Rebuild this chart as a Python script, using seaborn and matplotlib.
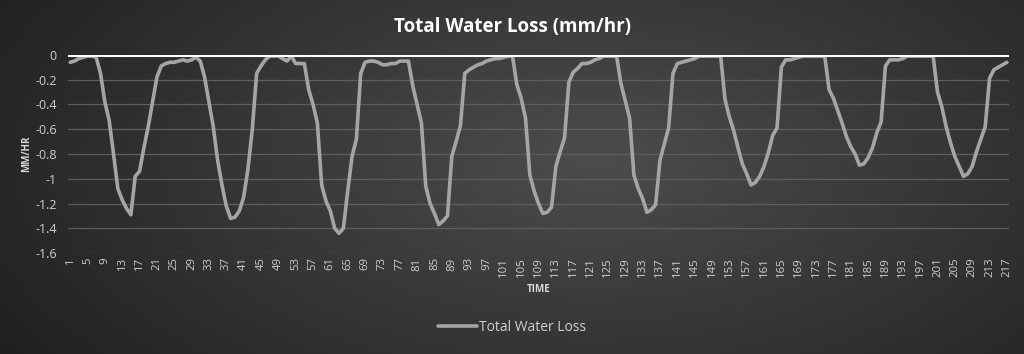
import numpy as np
import pandas as pd
import matplotlib
matplotlib.use('Agg')
import matplotlib.pyplot as plt
import seaborn as sns

# Series values, one per time step (1..217)
water_loss = [
    -0.06, -0.05, -0.03, -0.02, -0.01, -0.01, -0.02, -0.15, -0.38, -0.53,
    -0.80, -1.08, -1.17, -1.24, -1.29, -0.98, -0.94, -0.75, -0.58, -0.38,
    -0.18, -0.09, -0.07, -0.06, -0.06, -0.05, -0.04, -0.05, -0.04, -0.02,
    -0.05, -0.18, -0.38, -0.58, -0.85, -1.05, -1.22, -1.32, -1.31, -1.26,
    -1.15, -0.92, -0.60, -0.15, -0.09, -0.04, -0.01, -0.01, -0.01, -0.03,
    -0.05, -0.01, -0.07, -0.07, -0.07, -0.28, -0.40, -0.55, -1.05, -1.18,
    -1.26, -1.40, -1.44, -1.40, -1.10, -0.82, -0.68, -0.15, -0.06, -0.05,
    -0.05, -0.06, -0.08, -0.08, -0.07, -0.07, -0.05, -0.05, -0.05, -0.25,
    -0.40, -0.55, -1.06, -1.20, -1.28, -1.37, -1.34, -1.30, -0.82, -0.70,
    -0.57, -0.15, -0.12, -0.10, -0.08, -0.07, -0.05, -0.04, -0.03, -0.03,
    -0.02, -0.01, -0.01, -0.24, -0.35, -0.51, -0.97, -1.10, -1.20, -1.28,
    -1.27, -1.23, -0.90, -0.78, -0.67, -0.22, -0.14, -0.11, -0.07, -0.07,
    -0.06, -0.04, -0.03, -0.01, -0.01, -0.01, -0.01, -0.23, -0.37, -0.51,
    -0.97, -1.08, -1.16, -1.27, -1.25, -1.21, -0.85, -0.72, -0.59, -0.15,
    -0.07, -0.06, -0.05, -0.04, -0.03, -0.01, -0.01, -0.01, -0.01, -0.01,
    -0.01, -0.36, -0.50, -0.61, -0.75, -0.88, -0.96, -1.05, -1.03, -0.98,
    -0.90, -0.79, -0.65, -0.59, -0.10, -0.04, -0.04, -0.03, -0.02, -0.01,
    -0.01, -0.01, -0.01, -0.01, -0.01, -0.28, -0.35, -0.45, -0.55, -0.66,
    -0.74, -0.80, -0.89, -0.88, -0.83, -0.75, -0.63, -0.54, -0.09, -0.04,
    -0.04, -0.04, -0.03, -0.01, -0.01, -0.01, -0.01, -0.01, -0.01, -0.01,
    -0.30, -0.42, -0.58, -0.71, -0.82, -0.90, -0.98, -0.96, -0.90, -0.78,
    -0.68, -0.58, -0.19, -0.12, -0.10, -0.08, -0.06,
]
time_steps = list(range(1, len(water_loss) + 1))
x_tick_values = list(range(1, 218, 4))
y_tick_values = [0, -0.2, -0.4, -0.6, -0.8, -1, -1.2, -1.4, -1.6]
y_tick_labels = ['0', '-0.2', '-0.4', '-0.6', '-0.8', '-1', '-1.2', '-1.4', '-1.6']

df = pd.DataFrame({'Time': time_steps, 'Total Water Loss': water_loss})

sns.set_style("dark")
plt.rcParams['font.family'] = ['Open Sans', 'DejaVu Sans']

fig = plt.figure(figsize=(10.24, 3.54), dpi=100)

# radial grey background gradient
bg = fig.add_axes([0, 0, 1, 1], zorder=0)
gx, gy = np.meshgrid(np.linspace(0, 1, 400), np.linspace(0, 1, 150))
r = np.sqrt(((gx - 0.58) / 0.75) ** 2 + ((gy - 0.55) / 1.1) ** 2)
shade = np.clip(0.30 - 0.19 * r, 0.11, 0.30)
bg.imshow(np.dstack([shade] * 3), extent=[0, 1, 0, 1], aspect='auto', origin='lower')
bg.axis('off')

ax = fig.add_axes([0.0664, 0.285, 0.919, 0.56], zorder=1)
ax.patch.set_alpha(0)

ax.set_yticks(y_tick_values)
ax.yaxis.grid(True, color='#5e5e5e', linewidth=0.9)
ax.xaxis.grid(False)
sns.lineplot(data=df, x='Time', y='Total Water Loss', color='#a5a5a5', linewidth=2.6,
             ax=ax, label='Total Water Loss', zorder=3)
ax.axhline(0, color='white', linewidth=2.2, zorder=4)

ax.set_xlim(0.5, len(water_loss) + 0.5)
ax.set_ylim(-1.6, 0)
ax.set_xticks(x_tick_values)
ax.set_xticklabels([str(v) for v in x_tick_values], rotation=90, fontsize=8.2, color='#cfcfcf')
ax.set_yticklabels(y_tick_labels, fontsize=9, color='#cfcfcf')
ax.tick_params(axis='x', length=0, pad=3)
ax.tick_params(axis='y', length=0, pad=8)
for s in ax.spines.values():
    s.set_visible(False)

ax.set_xlabel('TIME', fontsize=7, fontweight='bold', color='#d9d9d9', labelpad=5)
ax.set_ylabel('MM/HR', fontsize=7, fontweight='bold', color='#d9d9d9', labelpad=2)

fig.text(0.5, 0.925, 'Total Water Loss (mm/hr)', ha='center', va='center',
         fontsize=13.5, fontweight='bold', color='white')

leg = ax.legend(loc='center', bbox_to_anchor=(0.5, 0.075), bbox_transform=fig.transFigure,
                frameon=False, fontsize=10, handlelength=2.8, handletextpad=0.1)
for t in leg.get_texts():
    t.set_color('#d0d0d0')

plt.savefig('out.png', dpi=100)
plt.close()
